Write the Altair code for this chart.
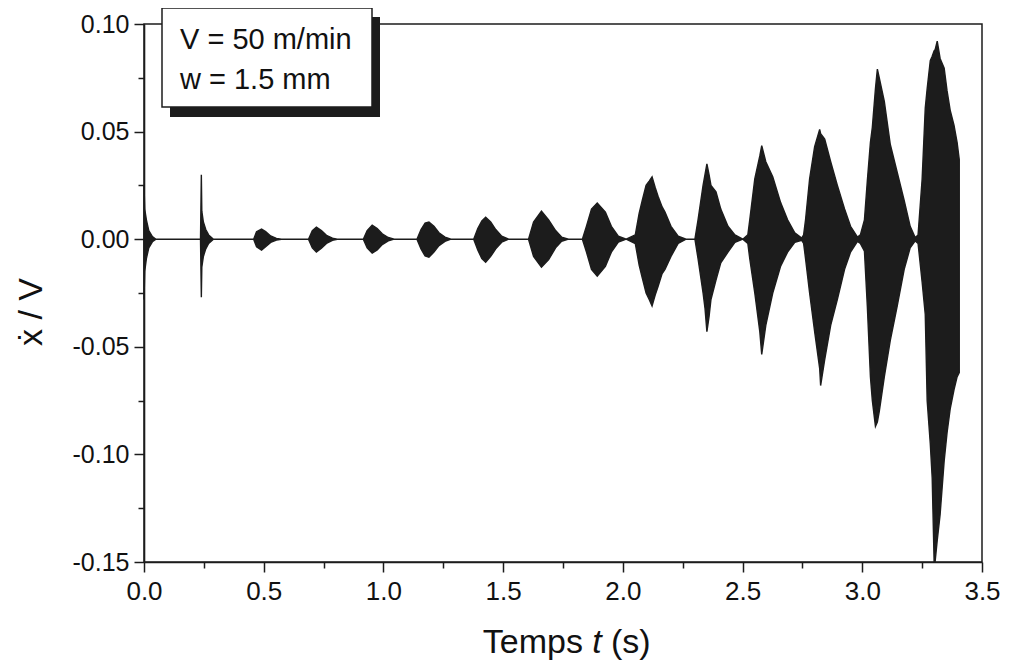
import altair as alt
import pandas as pd

# ---- envelope of the signal (t in s, upper / lower of x_dot/V) ----
BURST_T = [
    [0.000, 0.003, 0.010, 0.020, 0.035, 0.050],
    [0.236, 0.2395, 0.2415, 0.248, 0.258, 0.270, 0.290],
    [0.458, 0.470, 0.491, 0.508, 0.529, 0.553, 0.574],
    [0.687, 0.703, 0.720, 0.741, 0.762, 0.787, 0.807],
    [0.916, 0.932, 0.953, 0.974, 0.995, 1.020, 1.045],
    [1.140, 1.157, 1.174, 1.190, 1.211, 1.232, 1.257, 1.282],
    [1.377, 1.394, 1.411, 1.427, 1.448, 1.469, 1.494, 1.523],
    [1.606, 1.627, 1.660, 1.690, 1.719, 1.744, 1.773],
    [1.831, 1.848, 1.869, 1.893, 1.927, 1.952, 1.981, 2.014],
    [2.052, 2.068, 2.081, 2.097, 2.110, 2.122, 2.135, 2.147, 2.164, 2.176, 2.201, 2.231, 2.264],
    [2.301, 2.314, 2.335, 2.343, 2.351, 2.360, 2.368, 2.389, 2.409, 2.439, 2.468, 2.501],
    [2.522, 2.530, 2.551, 2.572, 2.580, 2.597, 2.626, 2.659, 2.688, 2.718, 2.747],
    [2.755, 2.763, 2.780, 2.801, 2.822, 2.826, 2.843, 2.868, 2.896, 2.926, 2.951, 2.980],
    [2.992, 3.009, 3.021, 3.034, 3.042, 3.055, 3.063, 3.071, 3.092, 3.117, 3.146, 3.175, 3.200, 3.221],
    [3.233, 3.250, 3.263, 3.271, 3.284, 3.292, 3.300, 3.304, 3.313, 3.325, 3.342, 3.354, 3.367, 3.383, 3.396, 3.405],
]
BURST_UP = [
    [0.025, 0.014, 0.009, 0.004, 0.0012, 0.0],
    [0.0, 0.030, 0.013, 0.008, 0.0045, 0.002, 0.0],
    [0.0, 0.0035, 0.0047, 0.0035, 0.0015, 0.0004, 0.0],
    [0.0, 0.004, 0.0056, 0.004, 0.0018, 0.0005, 0.0],
    [0.0, 0.004, 0.0065, 0.005, 0.0025, 0.0008, 0.0],
    [0.0, 0.0045, 0.0075, 0.008, 0.006, 0.003, 0.001, 0.0],
    [0.0, 0.005, 0.0085, 0.0102, 0.008, 0.0045, 0.0014, 0.0],
    [0.0, 0.008, 0.013, 0.009, 0.004, 0.001, 0.0],
    [0.0, 0.006, 0.014, 0.0168, 0.0126, 0.006, 0.0014, 0.0],
    [0.002, 0.012, 0.018, 0.025, 0.027, 0.029, 0.024, 0.020, 0.015, 0.0126, 0.006, 0.0014, 0.0],
    [0.0, 0.009, 0.025, 0.030, 0.035, 0.030, 0.025, 0.022, 0.014, 0.006, 0.002, 0.0],
    [0.002, 0.009, 0.028, 0.0387, 0.0435, 0.036, 0.029, 0.017, 0.009, 0.003, 0.0005],
    [0.002, 0.009, 0.028, 0.043, 0.051, 0.049, 0.0465, 0.036, 0.025, 0.014, 0.006, 0.001],
    [0.002, 0.009, 0.027, 0.045, 0.052, 0.070, 0.079, 0.075, 0.064, 0.044, 0.031, 0.018, 0.006, 0.0008],
    [0.002, 0.028, 0.061, 0.070, 0.083, 0.085, 0.0875, 0.088, 0.092, 0.084, 0.0795, 0.069, 0.060, 0.053, 0.045, 0.037],
]
BURST_LO = [
    [-0.028, -0.015, -0.009, -0.004, -0.0012, 0.0],
    [0.0, -0.027, -0.013, -0.008, -0.0045, -0.002, 0.0],
    [0.0, -0.0035, -0.0051, -0.0035, -0.0015, -0.0004, 0.0],
    [0.0, -0.004, -0.006, -0.0042, -0.002, -0.0005, 0.0],
    [0.0, -0.004, -0.0065, -0.005, -0.0025, -0.0008, 0.0],
    [0.0, -0.0045, -0.0078, -0.0084, -0.006, -0.003, -0.001, 0.0],
    [0.0, -0.005, -0.009, -0.0107, -0.008, -0.0045, -0.0014, 0.0],
    [0.0, -0.008, -0.013, -0.0095, -0.004, -0.001, 0.0],
    [0.0, -0.006, -0.014, -0.0172, -0.0126, -0.006, -0.0014, 0.0],
    [-0.002, -0.012, -0.018, -0.025, -0.028, -0.031, -0.026, -0.022, -0.016, -0.014, -0.008, -0.002, 0.0],
    [0.0, -0.009, -0.025, -0.032, -0.043, -0.036, -0.028, -0.019, -0.011, -0.006, -0.0015, 0.0],
    [-0.002, -0.009, -0.025, -0.043, -0.0535, -0.040, -0.025, -0.0125, -0.006, -0.0015, -0.0005],
    [-0.002, -0.009, -0.025, -0.043, -0.060, -0.068, -0.056, -0.040, -0.028, -0.014, -0.006, -0.001],
    [-0.002, -0.0056, -0.031, -0.064, -0.075, -0.087, -0.085, -0.080, -0.064, -0.047, -0.031, -0.014, -0.004, -0.0008],
    [-0.002, -0.020, -0.035, -0.075, -0.095, -0.111, -0.150, -0.150, -0.140, -0.128, -0.103, -0.090, -0.079, -0.070, -0.064, -0.062],
]

X_MAJOR = [0.0, 0.5, 1.0, 1.5, 2.0, 2.5, 3.0, 3.5]
X_MINOR = [0.25, 0.75, 1.25, 1.75, 2.25, 2.75, 3.25]
Y_MAJOR = [-0.15, -0.10, -0.05, 0.0, 0.05, 0.10]
Y_MINOR = [-0.125, -0.075, -0.025, 0.025, 0.075]

BOX_LINES = ["V = 50 m/min", "w = 1.5 mm"]
X_TITLE = ["Temps", "t", "(s)"]
Y_TITLE = "\u1e8b / V"

rows = []
for ts, us, ls in zip(BURST_T, BURST_UP, BURST_LO):
    for t, u, l in zip(ts, us, ls):
        rows.append({"t": t, "up": u, "lo": l})
sig = pd.DataFrame(rows)

W, H = 838, 538
FONT = "Liberation Sans"
INK = "#1c1c1c"
TXT = "#111111"

xs = alt.Scale(domain=[0, 3.5], nice=False, zero=False)
ys = alt.Scale(domain=[-0.15, 0.10], nice=False, zero=False)

ylab = "datum.value < 0 ? '-' + format(-datum.value, '.2f') : format(datum.value, '.2f')"

signal = alt.Chart(sig).mark_area(color=INK, stroke=INK, strokeWidth=1.4, opacity=1).encode(
    x=alt.X("t:Q", scale=xs,
            axis=alt.Axis(values=X_MAJOR, format=".1f", tickSize=10, labelPadding=6,
                          labelFlush=False, labelOverlap=False,
                          labelFontSize=26, title=None, grid=False, orient="bottom")),
    y=alt.Y("up:Q", scale=ys,
            axis=alt.Axis(values=Y_MAJOR, labelExpr=ylab, tickSize=10, labelPadding=5,
                          labelFlush=False, labelOverlap=False,
                          title=None, grid=False, orient="left")),
    y2="lo:Q",
)

minor = alt.Chart(sig).mark_point(opacity=0).encode(
    x=alt.X("t:Q", scale=xs,
            axis=alt.Axis(values=X_MINOR, labels=False, tickSize=6, domain=False,
                          title=None, grid=False, orient="bottom")),
    y=alt.Y("up:Q", scale=ys,
            axis=alt.Axis(values=Y_MINOR, labels=False, tickSize=6, domain=False,
                          title=None, grid=False, orient="left")),
)

one = pd.DataFrame({"k": [0]})

shadow = alt.Chart(one).mark_rect(color=INK).encode(
    x=alt.value(26), x2=alt.value(236), y=alt.value(-7), y2=alt.value(93))
box = alt.Chart(one).mark_rect(fill="white", stroke=INK, strokeWidth=1.5).encode(
    x=alt.value(18), x2=alt.value(228), y=alt.value(-16), y2=alt.value(83))
line1 = alt.Chart(one).mark_text(align="left", baseline="alphabetic", font=FONT,
                                 fontSize=29, color=TXT).encode(
    x=alt.value(36), y=alt.value(25), text=alt.value(BOX_LINES[0]))
line2 = alt.Chart(one).mark_text(align="left", baseline="alphabetic", font=FONT,
                                 fontSize=29, color=TXT).encode(
    x=alt.value(36), y=alt.value(65), text=alt.value(BOX_LINES[1]))

xt1 = alt.Chart(one).mark_text(align="right", baseline="alphabetic", font=FONT,
                               fontSize=34, color=TXT).encode(
    x=alt.value(439), y=alt.value(629), text=alt.value(X_TITLE[0]))
xt2 = alt.Chart(one).mark_text(align="center", baseline="alphabetic", font=FONT,
                               fontSize=34, fontStyle="italic", color=TXT).encode(
    x=alt.value(453), y=alt.value(629), text=alt.value(X_TITLE[1]))
xt3 = alt.Chart(one).mark_text(align="left", baseline="alphabetic", font=FONT,
                               fontSize=34, color=TXT).encode(
    x=alt.value(467), y=alt.value(629), text=alt.value(X_TITLE[2]))
yt = alt.Chart(one).mark_text(align="center", baseline="middle", font=FONT,
                              fontSize=34, angle=270, color=TXT).encode(
    x=alt.value(-112), y=alt.value(288), text=alt.value(Y_TITLE))

chart = alt.layer(signal, minor, shadow, box, line1, line2, xt1, xt2, xt3, yt).resolve_axis(
    x="independent", y="independent"
).properties(
    width=W, height=H,
    autosize=alt.AutoSizeParams(type="none"),
    padding={"left": 136, "top": 16, "right": 20, "bottom": 100},
).configure_view(
    stroke=INK, strokeWidth=1.5
).configure_axis(
    domainColor=INK, domainWidth=1.6, tickColor=INK, tickWidth=1.5,
    labelFont=FONT, labelFontSize=25, labelColor=TXT,
)

chart.save("out.html", embed_options={"renderer": "svg", "actions": False})
